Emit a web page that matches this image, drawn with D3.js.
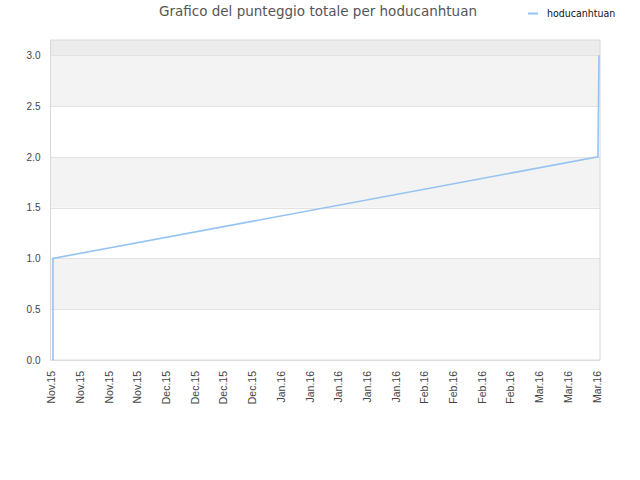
<!DOCTYPE html>
<html>
<head>
<meta charset="utf-8">
<script src="https://cdn.jsdelivr.net/npm/d3@7"></script>
<style>
	body { margin: 0; background: #fff; }
	svg { display: block; font-family: 'DejaVu Sans', sans-serif; }
</style>
</head>
<body>
<div class="chart"></div>
<script>
const TITLE = 'Grafico del punteggio totale per hoducanhtuan'
const SERIES_NAME = 'hoducanhtuan'

// score history
const dates = ['2015-11-06T14:30', '2015-11-06T14:30', '2016-03-18T12:00', '2016-03-18T18:00']
const scores = [0, 1, 2, 3]

// axis
const domainStart = '2015-11-06T00:00'
const domainEnd = '2016-03-19T00:00'
const tickStepDays = 7
const tickCount = 20
const yTicks = [0, 0.5, 1, 1.5, 2, 2.5, 3]
const yMax = 3.15

const width = 640
const height = 480
const margin = { top: 40, right: 40, bottom: 120, left: 50.5 }

const parse = d3.timeParse('%Y-%m-%dT%H:%M')
const data = dates.map((d, i) => ({ date: parse(d), score: scores[i] }))

const innerW = width - margin.left - margin.right
const innerH = height - margin.top - margin.bottom

const scaleX = d3.scaleTime()
	.domain([parse(domainStart), parse(domainEnd)])
	.range([0, innerW])

const scaleY = d3.scaleLinear()
	.domain([0, yMax])
	.range([innerH, 0])

const tickDates = d3.range(0, tickCount)
	.map(i => d3.timeDay.offset(parse(domainStart), i * tickStepDays))

function translate(x, y) {
	return `translate(${x}, ${y})`
}

const svg = d3.select('.chart').append('svg')
	.attr('width', width)
	.attr('height', height)

const g = svg.append('g')
	.attr('transform', translate(margin.left, margin.top))

// bands
g.append('rect')
	.attr('x', 0).attr('y', 0)
	.attr('width', innerW)
	.attr('height', scaleY(3))
	.attr('fill', '#ececec')

yTicks.slice(0, -1).forEach((t, i) => {
	if (i % 2 === 1) {
		g.append('rect')
			.attr('x', 0)
			.attr('y', scaleY(t + 0.5))
			.attr('width', innerW)
			.attr('height', scaleY(t) - scaleY(t + 0.5))
			.attr('fill', '#f3f3f3')
	}
})

// grid
g.selectAll('.grid')
	.data(yTicks)
	.enter().append('line')
		.attr('class', 'grid')
		.attr('x1', 0)
		.attr('x2', innerW)
		.attr('y1', d => Math.round(scaleY(d)) + 0.5)
		.attr('y2', d => Math.round(scaleY(d)) + 0.5)
		.attr('stroke', '#e2e2e2')

// frame
g.append('rect')
	.attr('x', 0).attr('y', 0)
	.attr('width', innerW)
	.attr('height', innerH)
	.attr('fill', 'none')
	.attr('stroke', '#d8d8d8')

// y axis
const yAxis = g.append('g')
	.call(d3.axisLeft(scaleY).tickValues(yTicks).tickFormat(d3.format('.1f')).tickSize(0).tickPadding(10))
yAxis.select('.domain').remove()
yAxis.selectAll('text')
	.attr('fill', '#444')
	.style('font-size', '10px')

// x axis
const fmtMonth = d3.timeFormat('%b.%y')
const xAxis = g.append('g')
	.attr('transform', translate(0, innerH))
	.call(d3.axisBottom(scaleX).tickValues(tickDates).tickFormat(fmtMonth).tickSize(0))
xAxis.select('.domain').remove()
xAxis.selectAll('text')
	.attr('fill', '#444')
	.style('font-size', '10.5px')
	.attr('text-anchor', 'end')
	.attr('transform', 'rotate(-90)')
	.attr('x', -11)
	.attr('y', 0.5)
	.attr('dy', '0.35em')

// line
const line = d3.line()
	.x(d => scaleX(d.date))
	.y(d => scaleY(d.score))

g.append('path')
	.datum(data)
	.attr('d', line)
	.attr('fill', 'none')
	.attr('stroke', '#95c3f2')
	.attr('stroke-width', 1.6)

// title
svg.append('text')
	.attr('x', 318)
	.attr('y', 16)
	.attr('text-anchor', 'middle')
	.attr('fill', '#555')
	.style('font-size', '13.5px')
	.text(TITLE)

// legend
const legend = svg.append('g')
	.attr('transform', translate(528, 13))
legend.append('line')
	.attr('x1', 0).attr('x2', 10)
	.attr('y1', 0.5).attr('y2', 0.5)
	.attr('stroke', '#95c3f2')
	.attr('stroke-width', 2)
legend.append('text')
	.attr('x', 19)
	.attr('y', 0)
	.attr('dy', '0.35em')
	.attr('fill', '#111')
	.style('font-size', '10.5px')
	.style('font-family', "'DejaVu Sans Condensed', 'DejaVu Sans', sans-serif")
	.text(SERIES_NAME)
</script>
</body>
</html>
